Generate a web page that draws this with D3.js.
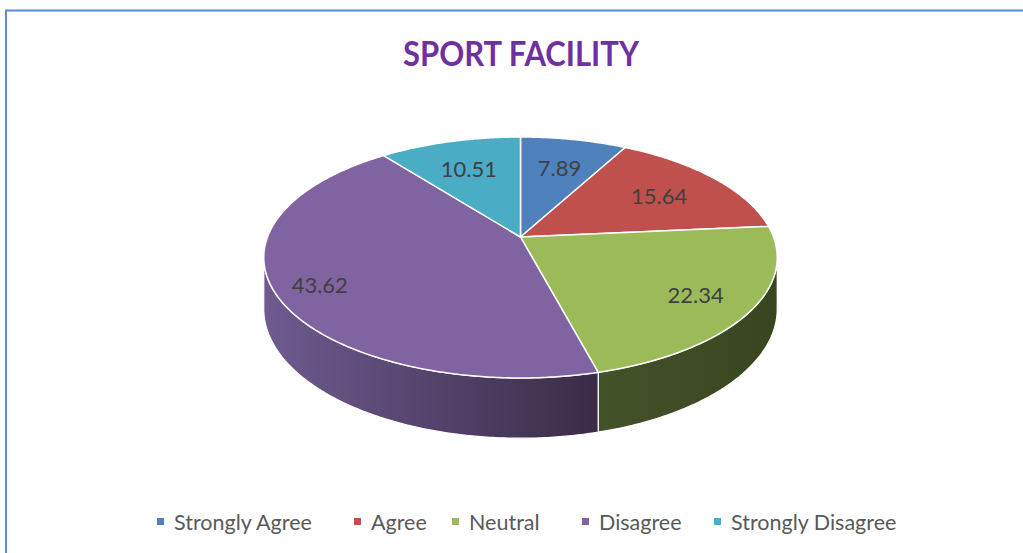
<!DOCTYPE html>
<html>
<head>
<meta charset="utf-8">
<script src="https://cdn.jsdelivr.net/npm/d3@7"></script>
<style>
  body { margin: 0; background: #fff; }
  svg { display: block; font-family: Lato, "Open Sans", sans-serif; }
</style>
</head>
<body>
<script>
var width = 1023,
    height = 553;

// chart data
var categories = ['Strongly Agree', 'Agree', 'Neutral', 'Disagree', 'Strongly Disagree'];
var values = [7.89, 15.64, 22.34, 43.62, 10.51];
var colors = ['#4f81bd', '#c0504d', '#9bbb59', '#8064a2', '#4bacc6'];
var sideColors = [['#3b5f8c', '#2a4466'], ['#8e3b39', '#662a28'], ['#44522a', '#39451f'],
                  ['#6e5b90', '#3a2c47'], ['#38809a', '#285d70']];

var svg = d3.select('body').append('svg')
    .attr('width', width)
    .attr('height', height);

// chart border
svg.append('path')
    .attr('d', 'M6,' + height + 'V10.5H' + width)
    .attr('fill', 'none')
    .attr('stroke', '#5b8bd0')
    .attr('stroke-width', 2);

svg.append('text')
    .attr('x', 521)
    .attr('y', 66)
    .attr('text-anchor', 'middle')
    .attr('font-size', 35)
    .attr('font-weight', 'bold')
    .attr('fill', '#7030a0')
    .attr('textLength', 236)
    .attr('lengthAdjust', 'spacingAndGlyphs')
    .text('SPORT FACILITY');

// pseudo 3d projection of the pie plane
var cx = 520.5, cy = 237, R = 253, RY = 117, P = 0.17, H = 50;

function proj(theta, r, drop) {
  var X = r * Math.sin(theta), Z = -r * Math.cos(theta);
  var d = 1 - P * Z;
  return [cx + R * X / d, cy + RY * Z / d + (drop ? H / d : 0)];
}

var pie = d3.pie().sort(null).value(function(d) { return d; });
var arcs = pie(values);

function arcPoints(a0, a1, r, drop) {
  var n = Math.max(2, Math.ceil(Math.abs(a1 - a0) / 0.01));
  return d3.range(n + 1).map(function(i) { return proj(a0 + (a1 - a0) * i / n, r, drop); });
}

var line = d3.line();
var defs = svg.append('defs');

// visible side range (front half, to the silhouette)
var sideMin = Math.acos(-P), sideMax = 2 * Math.PI - Math.acos(-P);

var sides = svg.append('g');
arcs.forEach(function(a, i) {
  var a0 = Math.max(a.startAngle, sideMin), a1 = Math.min(a.endAngle, sideMax);
  if (a1 <= a0) return;
  var top = arcPoints(a0, a1, 1, false);
  var bot = arcPoints(a1, a0, 1, true);
  var x0 = d3.min(top, function(p) { return p[0]; }),
      x1 = d3.max(top, function(p) { return p[0]; });
  var grad = defs.append('linearGradient')
      .attr('id', 'side' + i)
      .attr('gradientUnits', 'userSpaceOnUse')
      .attr('x1', x0).attr('x2', x1).attr('y1', 0).attr('y2', 0);
  grad.append('stop').attr('offset', 0).attr('stop-color', sideColors[i][0]);
  grad.append('stop').attr('offset', 1).attr('stop-color', sideColors[i][1]);
  sides.append('path')
      .attr('d', line(top.concat(bot)) + 'Z')
      .attr('fill', 'url(#side' + i + ')')
      .attr('stroke', '#fff')
      .attr('stroke-width', 1.2);
});

// top face slices
var tops = svg.append('g');
arcs.forEach(function(a, i) {
  var pts = [proj(0, 0, false)].concat(arcPoints(a.startAngle, a.endAngle, 1, false));
  tops.append('path')
      .attr('d', line(pts) + 'Z')
      .attr('fill', colors[i])
      .attr('stroke', '#fff')
      .attr('stroke-width', 1.5)
      .attr('stroke-linejoin', 'round');
});

// data labels
var labelR = [0.7, 0.7, 0.78, 0.83, 0.7];
arcs.forEach(function(a, i) {
  var p = proj((a.startAngle + a.endAngle) / 2, labelR[i], false);
  svg.append('text')
      .attr('x', p[0])
      .attr('y', p[1] + 2)
      .attr('dy', '0.35em')
      .attr('text-anchor', 'middle')
      .attr('font-size', 22)
      .attr('fill', '#404040')
      .text(values[i].toFixed(2));
});

// legend
var legendX = [157, 354, 452, 582, 714];
var legend = svg.append('g');
categories.forEach(function(c, i) {
  legend.append('rect')
      .attr('x', legendX[i])
      .attr('y', 518)
      .attr('width', 7)
      .attr('height', 7)
      .attr('fill', colors[i]);
  legend.append('text')
      .attr('x', legendX[i] + 17)
      .attr('y', 522)
      .attr('dy', '0.35em')
      .attr('font-size', 21.5)
      .attr('fill', '#595959')
      .text(c);
});
</script>
</body>
</html>
